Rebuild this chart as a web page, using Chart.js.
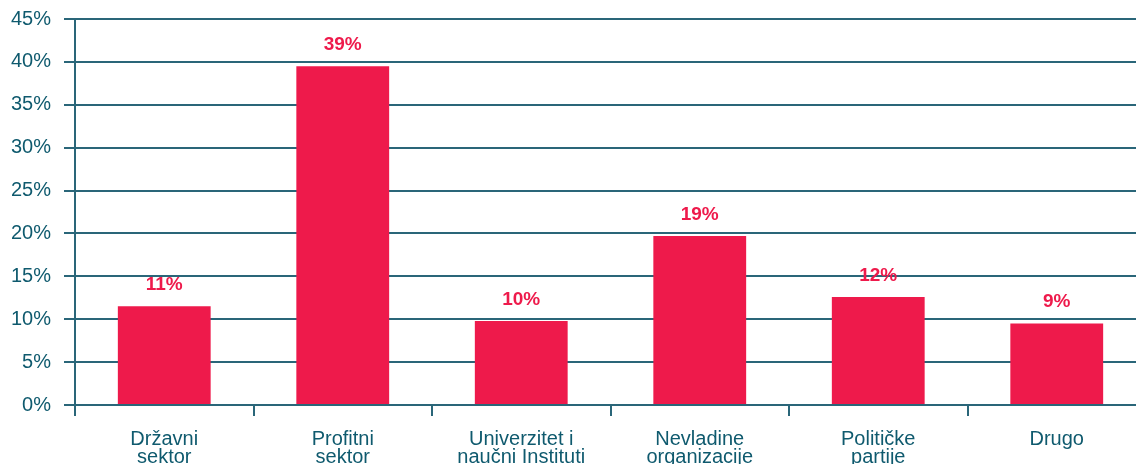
<!DOCTYPE html>
<html>
<head>
<meta charset="utf-8">
<script src="https://cdn.jsdelivr.net/npm/chart.js@4"></script>
<style>
  html, body { margin: 0; padding: 0; overflow: hidden; background: #fff; }
  #wrap { position: absolute; left: 0; top: 0; width: 1146px; height: 482px; }
</style>
</head>
<body>
<div id="wrap"><canvas id="plot-area"></canvas></div>
<script>
const categories = [
  ["Državni", "sektor"],
  ["Profitni", "sektor"],
  ["Univerzitet i", "naučni Instituti"],
  ["Nevladine", "organizacije"],
  ["Političke", "partije"],
  ["Drugo"],
];
const shares = [11.5, 39.5, 9.8, 19.7, 12.6, 9.5];
const shareLabels = ["11%", "39%", "10%", "19%", "12%", "9%"];
const yTicks = [0, 5, 10, 15, 20, 25, 30, 35, 40, 45];

const red = "#ee1a4b";
const teal = "#0f5a6e";
const gridTeal = "#2a6679";

// draws the percent text above each bar
const barLabels = {
  id: "barLabels",
  afterDatasetsDraw(chart) {
    const ctx = chart.ctx;
    const meta = chart.getDatasetMeta(0);
    ctx.save();
    ctx.fillStyle = red;
    ctx.font = "bold 19px 'Liberation Sans', Arial, sans-serif";
    ctx.textAlign = "center";
    ctx.textBaseline = "bottom";
    meta.data.forEach((bar, i) => {
      ctx.fillText(shareLabels[i], bar.x, bar.y - 12);
    });
    ctx.restore();
  },
};

const config = {
  type: "bar",
  data: {
    labels: categories,
    datasets: [{
      data: shares,
      backgroundColor: red,
      borderWidth: 0,
      categoryPercentage: 0.52,
      barPercentage: 1,
    }],
  },
  options: {
    responsive: true,
    maintainAspectRatio: false,
    animation: false,
    layout: { padding: { top: 17, right: 0, left: 0, bottom: 0 } },
    plugins: {
      legend: { display: false },
      tooltip: { enabled: false },
    },
    scales: {
      x: {
        offset: true,
        grid: {
          offset: true,
          drawOnChartArea: false,
          drawTicks: true,
          tickLength: 11,
          color: gridTeal,
          lineWidth: 2,
        },
        border: { display: false },
        ticks: {
          color: teal,
          font: { family: "'Liberation Sans', Arial, sans-serif", size: 20, lineHeight: 0.9 },
          padding: 14,
          maxRotation: 0,
          autoSkip: false,
        },
        afterFit(scale) { scale.height = 77; },
      },
      y: {
        min: 0,
        max: 45,
        afterBuildTicks(scale) { scale.ticks = yTicks.map(v => ({ value: v })); },
        grid: {
          color: gridTeal,
          lineWidth: 2,
          drawTicks: true,
          tickLength: 11,
        },
        border: { display: true, color: gridTeal, width: 2 },
        ticks: {
          color: teal,
          font: { family: "'Liberation Sans', Arial, sans-serif", size: 20, lineHeight: 0.6 },
          padding: 13,
          callback: v => v + "%",
        },
        afterFit(scale) { scale.width = 75; },
      },
    },
  },
  plugins: [barLabels],
};

new Chart(document.getElementById("plot-area").getContext("2d"), config);
</script>
</body>
</html>
